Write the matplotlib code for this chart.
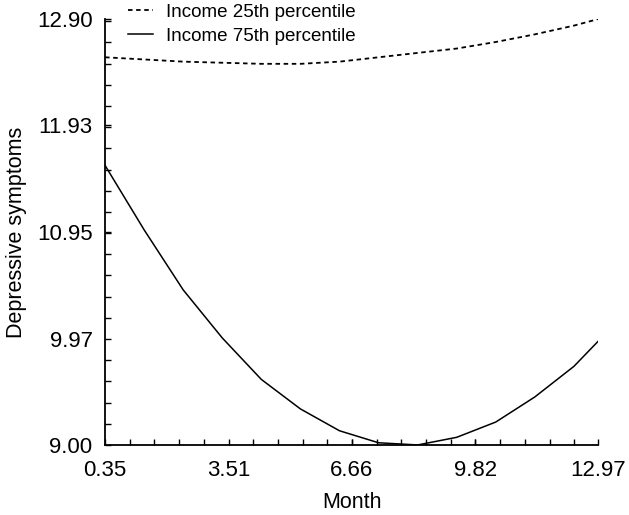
import matplotlib
matplotlib.use("Agg")
import matplotlib.pyplot as plt
from matplotlib.ticker import AutoMinorLocator

plt.rcParams['font.family'] = ['Liberation Sans', 'DejaVu Sans']

# months at which the curves were evaluated
month = [0.35, 1.35, 2.35, 3.35, 4.35, 5.35, 6.35, 7.35, 8.35, 9.35,
         10.35, 11.35, 12.35, 12.97]
income_25 = [12.55, 12.53, 12.51, 12.50, 12.49, 12.49, 12.51, 12.55, 12.59,
             12.63, 12.69, 12.76, 12.84, 12.90]
income_75 = [11.56, 10.97, 10.42, 9.98, 9.60, 9.33, 9.13, 9.02, 9.00, 9.07,
             9.21, 9.44, 9.72, 9.95]

x_ticks = [0.35, 3.51, 6.66, 9.82, 12.97]
y_ticks = [9.00, 9.97, 10.95, 11.93, 12.90]

fig = plt.figure(figsize=(6.29, 5.15), dpi=100)
ax = fig.add_axes([0.167, 0.136, 0.784, 0.827])

ax.plot(month, income_25, color='black', lw=1.3, ls=(0, (2.5, 2)),
        label='Income 25th percentile')
ax.plot(month, income_75, color='black', lw=1.1,
        label='Income 75th percentile')

ax.set_xlim(0.35, 12.97)
ax.set_ylim(9.00, 12.90)
ax.set_xticks(x_ticks)
ax.set_xticklabels(['%.2f' % t for t in x_ticks])
ax.set_yticks(y_ticks)
ax.set_yticklabels(['%.2f' % t for t in y_ticks])
ax.xaxis.set_minor_locator(AutoMinorLocator(5))
ax.yaxis.set_minor_locator(AutoMinorLocator(5))
ax.tick_params(which='both', direction='in', labelsize=16, width=1,
               length=4.5)
ax.tick_params(axis='y', which='major', pad=9)
ax.tick_params(axis='x', which='major', pad=11)

for s in ['top', 'right']:
    ax.spines[s].set_visible(False)
for s in ['left', 'bottom']:
    ax.spines[s].set_linewidth(1.3)

ax.set_xlabel('Month', fontsize=15.5, labelpad=8)
ax.set_ylabel('Depressive symptoms', fontsize=15.5, labelpad=7)

ax.legend(loc='center left', bbox_to_anchor=(0.047, 0.988), frameon=False,
          fontsize=13.5, handlelength=1.3, handletextpad=0.7,
          labelspacing=0.38, borderaxespad=0, borderpad=0)

fig.savefig('out.png', dpi=100)
